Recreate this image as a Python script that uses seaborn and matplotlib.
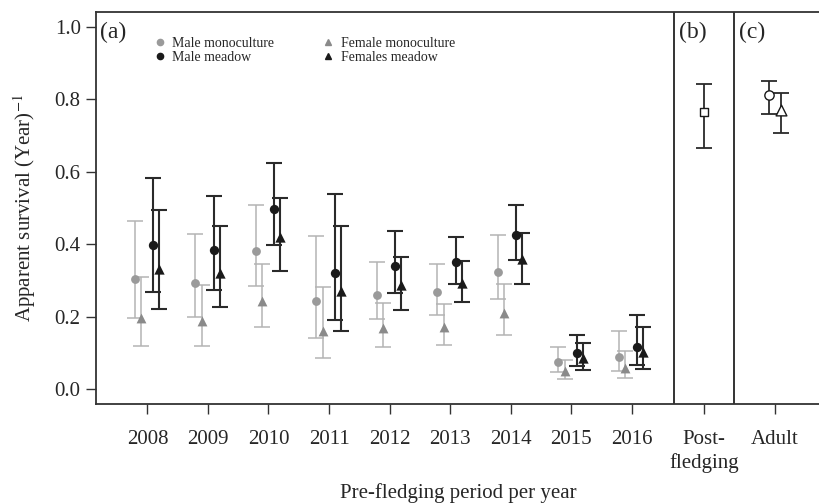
import numpy as np
import pandas as pd
import seaborn as sns
import matplotlib
matplotlib.use("Agg")
import matplotlib.pyplot as plt
from matplotlib.lines import Line2D

# ================================
# 1. Data
# ================================
years = ["2008", "2009", "2010", "2011", "2012", "2013", "2014", "2015", "2016"]

male_mono = [0.304, 0.292, 0.381, 0.245, 0.260, 0.268, 0.325, 0.076, 0.090]
male_mono_lo = [0.198, 0.200, 0.285, 0.142, 0.193, 0.206, 0.249, 0.049, 0.051]
male_mono_hi = [0.465, 0.429, 0.509, 0.424, 0.351, 0.346, 0.425, 0.118, 0.161]

female_mono = [0.196, 0.188, 0.245, 0.160, 0.170, 0.173, 0.211, 0.051, 0.060]
female_mono_lo = [0.120, 0.120, 0.172, 0.087, 0.116, 0.123, 0.150, 0.030, 0.032]
female_mono_hi = [0.310, 0.287, 0.345, 0.282, 0.238, 0.236, 0.290, 0.080, 0.107]

male_meadow = [0.397, 0.383, 0.498, 0.322, 0.341, 0.350, 0.426, 0.100, 0.118]
male_meadow_lo = [0.269, 0.275, 0.399, 0.192, 0.266, 0.291, 0.356, 0.066, 0.068]
male_meadow_hi = [0.584, 0.534, 0.623, 0.538, 0.438, 0.419, 0.509, 0.151, 0.205]

female_meadow = [0.332, 0.322, 0.419, 0.271, 0.287, 0.294, 0.359, 0.086, 0.102]
female_meadow_lo = [0.221, 0.226, 0.327, 0.160, 0.220, 0.240, 0.291, 0.055, 0.057]
female_meadow_hi = [0.494, 0.450, 0.528, 0.450, 0.366, 0.355, 0.432, 0.127, 0.171]

# (b) post-fledging, (c) adult male / adult female
post_fledging = [0.765]
post_fledging_lo = [0.664]
post_fledging_hi = [0.843]

adult = [0.810, 0.770]
adult_lo = [0.760, 0.708]
adult_hi = [0.850, 0.818]

tick_labels = years + ["Post-\nfledging", "Adult"]

# ================================
# 2. Style
# ================================
sns.set_theme(style="ticks")
plt.rcParams["font.family"] = ["Liberation Serif", "DejaVu Serif"]
plt.rcParams["mathtext.fontset"] = "stix"

GREY_PT = "#9a9a9a"
GREY_BAR = "#b4b4b4"
BLACK_PT = "#1a1a1a"
BLACK_BAR = "#2a2a2a"

fig = plt.figure(figsize=(8.2, 5.04), dpi=100)
ax = fig.add_axes([96 / 820, 100 / 504, 724 / 820, 392 / 504])

x_year = np.arange(1, len(years) + 1)
x_post = 10.2
x_adult = 11.37


def draw_group(xpos, val, lo, hi, marker, pt_color, bar_color, lw, size,
               face=None):
    val = np.asarray(val)
    err = [val - np.asarray(lo), np.asarray(hi) - val]
    ax.errorbar(xpos, val, yerr=err, fmt="none", ecolor=bar_color,
                elinewidth=lw, capsize=6, capthick=lw, zorder=2)
    df = pd.DataFrame({"x": xpos, "y": val})
    sns.scatterplot(data=df, x="x", y="y", marker=marker, s=size,
                    color=face if face else pt_color,
                    edgecolor=pt_color, linewidth=1.0 if face else 0,
                    ax=ax, zorder=3, legend=False)


draw_group(x_year - 0.21, male_mono, male_mono_lo, male_mono_hi,
           "o", GREY_PT, GREY_BAR, 1.1, 40)
draw_group(x_year - 0.107, female_mono, female_mono_lo, female_mono_hi,
           "^", "#8a8a8a", GREY_BAR, 1.1, 50)
draw_group(x_year + 0.094, male_meadow, male_meadow_lo, male_meadow_hi,
           "o", BLACK_PT, BLACK_BAR, 1.5, 45)
draw_group(x_year + 0.193, female_meadow, female_meadow_lo, female_meadow_hi,
           "^", BLACK_PT, BLACK_BAR, 1.5, 55)

# panel (b) and (c): open markers
draw_group(np.array([x_post]), post_fledging, post_fledging_lo,
           post_fledging_hi, "s", BLACK_PT, BLACK_BAR, 1.3, 30, face="white")
draw_group(np.array([x_adult - 0.103]), adult[:1], adult_lo[:1], adult_hi[:1],
           "o", BLACK_PT, BLACK_BAR, 1.3, 45, face="white")
draw_group(np.array([x_adult + 0.103]), adult[1:], adult_lo[1:], adult_hi[1:],
           "^", BLACK_PT, BLACK_BAR, 1.3, 60, face="white")

# panel dividers
ax.axvline(9.71, color="#333333", lw=1.4, zorder=1)
ax.axvline(10.70, color="#333333", lw=1.4, zorder=1)

# ================================
# 3. Axes
# ================================
ax.set_xlim(0.149, 12.115)
ax.set_ylim(-0.04, 1.04)
ax.set_xticks(list(x_year) + [x_post, x_adult])
ax.set_xticklabels(tick_labels, fontsize=15, va="top", linespacing=1.25)
ax.set_yticks(np.arange(0, 1.01, 0.2))
ax.set_yticklabels([f"{v:.1f}" for v in np.arange(0, 1.01, 0.2)], fontsize=15)
ax.tick_params(axis="x", length=7, width=1, color="#333333", pad=12)
ax.tick_params(axis="y", length=7, width=1, color="#333333", pad=4)

for side in ["left", "bottom", "top"]:
    ax.spines[side].set_color("#333333")
    ax.spines[side].set_linewidth(1.3)
ax.spines["right"].set_visible(False)

ax.set_xlabel("Pre-fledging period per year", fontsize=15, labelpad=7)
ax.set_ylabel(r"Apparent survival (Year)$^{-1}$", fontsize=15, labelpad=12)

# panel letters
ax.text(0.22, 0.985, "(a)", fontsize=17, va="center", ha="left")
ax.text(9.78, 0.985, "(b)", fontsize=17, va="center", ha="left")
ax.text(10.77, 0.985, "(c)", fontsize=17, va="center", ha="left")

# legend
handles = [
    Line2D([], [], ls="none", marker="o", color=GREY_PT, markersize=4.5),
    Line2D([], [], ls="none", marker="o", color=BLACK_PT, markersize=4.5),
    Line2D([], [], ls="none", marker="^", color="#8a8a8a", markersize=5),
    Line2D([], [], ls="none", marker="^", color=BLACK_PT, markersize=5),
]
labels = ["Male monoculture", "Male meadow", "Female monoculture",
          "Females meadow"]
ax.legend(handles, labels, ncol=2, loc="upper left",
          bbox_to_anchor=(0.067, 0.955), frameon=False, fontsize=10,
          handletextpad=0.3, columnspacing=3.3, labelspacing=0.1,
          borderpad=0, handlelength=1.2)

plt.savefig("out.png", dpi=100)
plt.close()
